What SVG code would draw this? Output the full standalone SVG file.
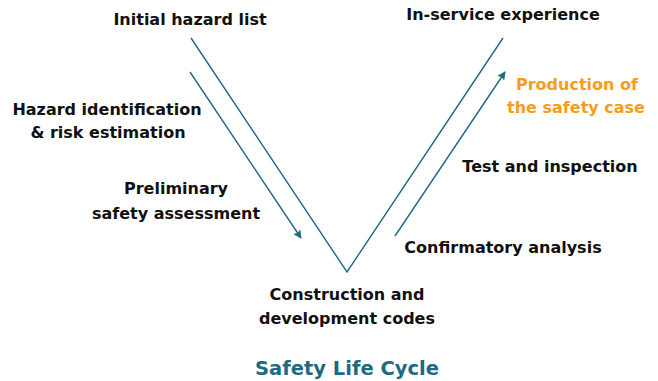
<svg xmlns="http://www.w3.org/2000/svg" width="658" height="381" viewBox="0 0 658 381">
<style>
text{font-family:"DejaVu Sans",sans-serif;font-weight:bold;font-size:16px;fill:#111;text-anchor:middle}
.hl{fill:#f59d1c}
.title{fill:#1d6a83;font-size:19.5px}
.ln{stroke:#1d6a83;stroke-width:1.4;fill:none}
</style>
<defs>
<marker id="ah" viewBox="0 0 10 10" refX="9" refY="5" markerWidth="8.5" markerHeight="8.5" markerUnits="userSpaceOnUse" orient="auto"><path d="M0,0 L10,5 L0,10 L2,5 z" fill="#1d6a83"/></marker>
</defs>
<g id="connectors">
<polyline class="ln" points="191,38 347,272 503,38"/>
<line class="ln" x1="190" y1="72" x2="301" y2="238" marker-end="url(#ah)"/>
<line class="ln" x1="395" y1="236" x2="505" y2="72" marker-end="url(#ah)"/>
</g>
<g id="initial"><text x="190" y="25">Initial hazard list</text></g>
<g id="hazard"><text x="107" y="115">Hazard identification</text><text x="108" y="138">&amp; risk estimation</text></g>
<g id="prelim"><text x="176" y="194">Preliminary</text><text x="176" y="219">safety assessment</text></g>
<g id="inservice"><text x="503" y="20">In-service experience</text></g>
<g id="production"><text class="hl" x="577" y="90">Production of</text><text class="hl" x="576" y="113">the safety case</text></g>
<g id="test"><text x="550" y="172">Test and inspection</text></g>
<g id="confirm"><text x="503" y="253">Confirmatory analysis</text></g>
<g id="construction"><text x="347" y="300">Construction and</text><text x="347" y="324">development codes</text></g>
<g id="title"><text class="title" x="347" y="375">Safety Life Cycle</text></g>
</svg>
